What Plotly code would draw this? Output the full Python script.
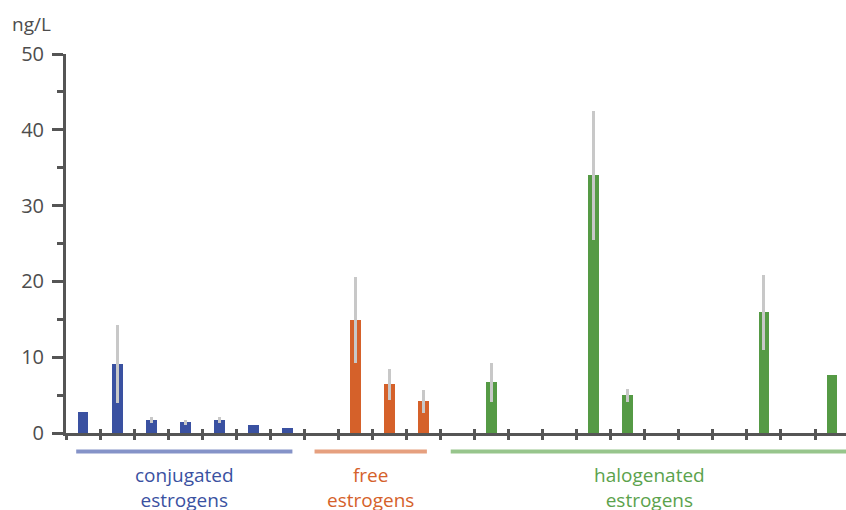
import plotly.graph_objects as go

# ---- data ----
conj_x = [0, 1, 2, 3, 4, 5, 6]
conj_y = [2.8, 9.1, 1.7, 1.4, 1.7, 1.0, 0.6]
conj_err = [0, 5.2, 0.4, 0.3, 0.35, 0, 0]

free_x = [8, 9, 10]
free_y = [14.9, 6.4, 4.2]
free_err = [5.7, 2.1, 1.5]

halo_x = [12, 15, 16, 20, 22]
halo_y = [6.7, 34.0, 5.0, 15.9, 7.7]
halo_err = [2.6, 8.5, 0.85, 5.0, 0]

n_slots = 23
group_names = ["conjugated<br>estrogens", "free<br>estrogens", "halogenated<br>estrogens"]
group_start = [-0.2, 6.8, 10.8]
group_end = [6.15, 10.1, 22.5]
bar_colors = ["#3a51a1", "#d5612a", "#559a45"]
line_colors = ["#8593c8", "#e6a07f", "#97c58c"]
text_colors = ["#3a51a1", "#d5612a", "#5ba24c"]

y_ticks = [0, 10, 20, 30, 40, 50]

AX = "#555555"
FONT = "Open Sans, Lato, sans-serif"

fig = go.Figure()
for xs, ys, es, c in [(conj_x, conj_y, conj_err, bar_colors[0]),
                      (free_x, free_y, free_err, bar_colors[1]),
                      (halo_x, halo_y, halo_err, bar_colors[2])]:
    fig.add_trace(go.Bar(
        x=xs, y=ys, marker=dict(color=c, line=dict(width=0)), width=0.32,
        error_y=dict(type="data", array=es, color="#c8c8c8", thickness=3, width=0, visible=True),
        showlegend=False,
    ))

# overlay axis for inside ticks (ticks straddle the x axis line)
fig.add_trace(go.Scatter(x=[0], y=[0], xaxis="x2", mode="markers",
                         marker=dict(opacity=0), showlegend=False, hoverinfo="skip"))

boundaries = [i - 0.5 for i in range(n_slots + 1)]
xrange = [-0.5, 22.41]

fig.update_layout(
    width=846, height=510,
    margin=dict(l=66, r=0, t=54, b=77, autoexpand=False),
    plot_bgcolor="white", paper_bgcolor="white",
    bargap=0,
    font=dict(family=FONT, color="#4d4d4d"),
    xaxis=dict(range=xrange, showgrid=False, zeroline=False, showline=True,
               linecolor=AX, linewidth=3, tickmode="array", tickvals=boundaries,
               ticks="outside", ticklen=4, tickwidth=3, tickcolor=AX,
               showticklabels=False),
    xaxis2=dict(range=xrange, overlaying="x", side="bottom", showgrid=False,
                zeroline=False, showline=False, tickmode="array", tickvals=boundaries,
                ticks="inside", ticklen=4, tickwidth=3, tickcolor=AX,
                showticklabels=False, anchor="y"),
    yaxis=dict(range=[0, 50], showgrid=False, zeroline=False, showline=True,
               linecolor=AX, linewidth=3, tickmode="array", tickvals=y_ticks,
               ticks="outside", ticklen=11, tickwidth=3, tickcolor=AX,
               tickfont=dict(size=20, color="#4d4d4d", family=FONT),
               ticklabelstandoff=4,
               minor=dict(dtick=5, tick0=0, ticks="outside", ticklen=6,
                          tickwidth=3, tickcolor=AX, showgrid=False)),
)

shapes = []
annotations = []
for s, e, lc, name, tc in zip(group_start, group_end, line_colors, group_names, text_colors):
    shapes.append(dict(type="line", xref="x", yref="paper", x0=s, x1=e,
                       y0=-0.0487, y1=-0.0487, line=dict(color=lc, width=4)))
    annotations.append(dict(xref="x", yref="paper", x=(s + e) / 2, y=-0.072,
                            yanchor="top", xanchor="center", showarrow=False,
                            text=name, font=dict(size=19, color=tc, family=FONT)))
annotations.append(dict(xref="paper", yref="paper", x=-56 / 780, y=0.079,
                        xanchor="left", yanchor="middle", showarrow=False,
                        text="ng/L", font=dict(size=19, color="#4d4d4d", family=FONT)))
annotations[-1]["y"] = 1.079
fig.update_layout(shapes=shapes, annotations=annotations)

fig.write_html("out.html", config={"displayModeBar": False},
               post_script="document.body.style.margin='0';document.body.style.overflow='hidden';")
